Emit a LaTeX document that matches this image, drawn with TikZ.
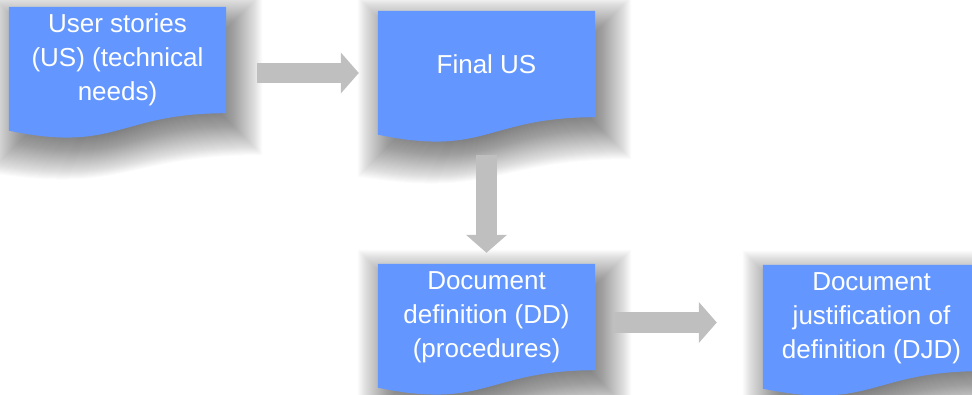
\documentclass[tikz,border=0pt]{standalone}
\usepackage{fontspec}
\setmainfont{Liberation Sans}
\usetikzlibrary{calc,arrows.meta,backgrounds}
\definecolor{docblue}{RGB}{99,151,255}
\definecolor{arrgray}{RGB}{191,191,191}
\newcommand\docshadow[1]{%
  \foreach \r in {-28,-27,...,28} {
    \fill[black, opacity=0.015]
      ($(#1.north west)+(8-\r,14-\r)$) -- ($(#1.north east)+(8+\r,14-\r)$)
      -- ($(#1.south east)+(8+\r,14+\r)$)
      .. controls ($(#1.south)+(8,14+\r)$) and ($(#1.south)+(8,54+\r)$)
      .. ($(#1.south west)+(8-\r,31.5+\r)$) -- cycle;
  }%
}
\newcommand\docfill[1]{%
  \fill[docblue] (#1.north west) -- (#1.north east) -- (#1.south east)
    .. controls (#1.south) and ($(#1.south)+(0,40)$) .. ($(#1.south west)+(0,17.5)$) -- cycle;%
}
\tikzset{
  docnode/.style={minimum width=217pt, minimum height=106pt, inner sep=0pt,
    align=center, text=white, font=\fontsize{26}{34}\selectfont},
  blockarrow/.style={draw=arrgray, line width=20.5pt,
    -{Triangle[width=40pt,length=18pt]}}
}
\begin{document}
\begin{tikzpicture}[x=1pt,y=-1pt]
\useasboundingbox (0,0) rectangle (972,394);
\node[docnode] (n1) at (117.5,60) {User stories\\(US) (technical\\needs)};
\node[docnode] (n2) at (486.5,64) {Final US};
\node[docnode] (n3) at (486.5,317) {Document\\definition (DD)\\(procedures)};
\node[docnode] (n4) at (871.5,318) {Document\\justification of\\definition (DJD)};
\begin{scope}[on background layer]
  \docshadow{n1}\docshadow{n2}\docshadow{n3}\docshadow{n4}
  \draw[blockarrow] ($(n1.east)+(30.5,13)$) -- ($(n2.west)+(-19,9)$);
  \draw[blockarrow] ($(n2.south)+(0,38)$) -- ($(n3.north)+(0,-11)$);
  \draw[blockarrow] ($(n3.east)+(18,5.5)$) -- ($(n4.west)+(-46,4.5)$);
  \docfill{n1}\docfill{n2}\docfill{n3}\docfill{n4}
\end{scope}
\end{tikzpicture}
\end{document}
